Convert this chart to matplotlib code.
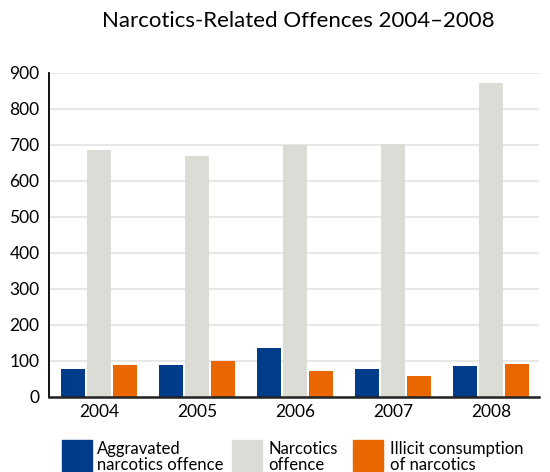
import matplotlib
matplotlib.use("Agg")
import matplotlib.pyplot as plt
import numpy as np
from matplotlib.patches import Rectangle

years = ["2004", "2005", "2006", "2007", "2008"]
aggravated = [77, 88, 136, 77, 85]
narcotics = [685, 668, 699, 701, 871]
illicit = [87, 99, 71, 57, 91]

series_labels = ["Aggravated\nnarcotics offence", "Narcotics\noffence",
                 "Illicit consumption\nof narcotics"]
colors = ["#013C8A", "#DCDCD6", "#EA6700"]
yticks = list(range(0, 1000, 100))

plt.rcParams["font.family"] = ["Lato", "DejaVu Sans"]

fig = plt.figure(figsize=(5.5, 4.72), dpi=100)
ax = fig.add_axes([0.0896, 0.1595, 0.8904, 0.6865])

x = np.arange(len(years))
width = 0.245
step = 0.268
for i, (vals, col) in enumerate(zip([aggravated, narcotics, illicit], colors)):
    ax.bar(x + (i - 1) * step, vals, width=width, color=col, zorder=3)

ax.set_xlim(-0.507, 4.49)
ax.set_ylim(0, 900)
ax.set_yticks(yticks)
ax.set_yticklabels([str(t) for t in yticks], fontsize=12.5)
ax.set_xticks(x)
ax.set_xticklabels(years, fontsize=12.5)
ax.tick_params(axis="both", length=0, colors="black")
ax.tick_params(axis="y", pad=7)
ax.tick_params(axis="x", pad=5)

ax.grid(axis="y", color="#E3E3E3", linewidth=1.2, zorder=0)
for side in ["top", "right"]:
    ax.spines[side].set_visible(False)
ax.spines["left"].set_color("black")
ax.spines["left"].set_linewidth(1.3)
ax.spines["bottom"].set_color("#222222")
ax.spines["bottom"].set_linewidth(1.8)
ax.spines["bottom"].set_zorder(4)

fig.text(0.542, 0.955, "Narcotics-Related Offences 2004\u20132008",
         ha="center", va="center", fontsize=16, color="black")

# legend: swatches with two-line labels
W, H = 550, 472
swatch_x = [62, 232, 353]
text_x = [97, 268, 390]
for sx, tx, col, lab in zip(swatch_x, text_x, colors, series_labels):
    fig.patches.append(Rectangle((sx / W, 1 - 471 / H), 30 / W, 31 / H,
                                 transform=fig.transFigure, color=col))
    fig.text(tx / W, 1 - 457 / H, lab, ha="left", va="center",
             fontsize=12, linespacing=0.97, color="black")

fig.savefig("out.png", dpi=100)
